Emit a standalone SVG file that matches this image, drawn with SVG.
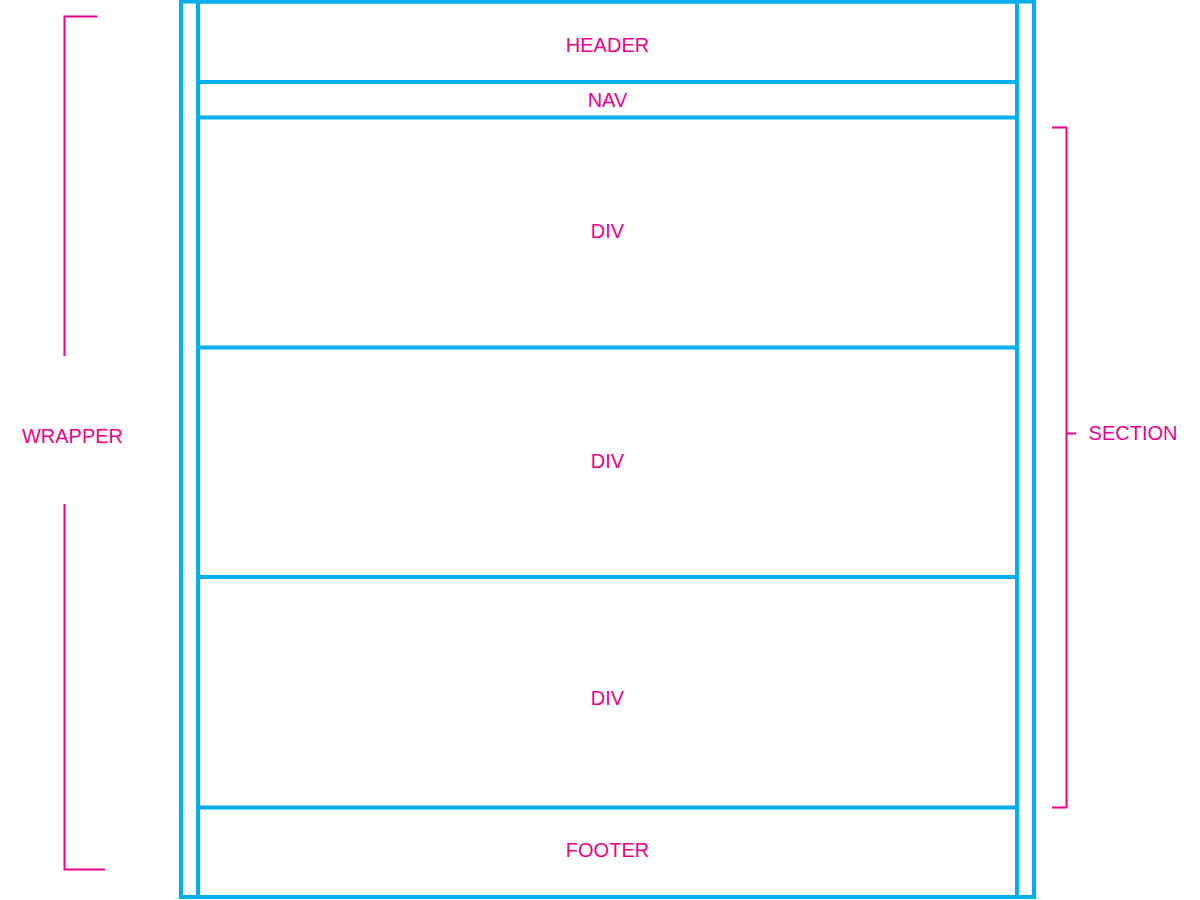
<svg xmlns="http://www.w3.org/2000/svg" width="1200" height="900" viewBox="0 0 1200 900">
<style>
.box{fill:none;stroke:#00AEEF;stroke-width:4}
.sep{stroke:#00AEEF;stroke-width:4;fill:none}
.br{fill:none;stroke:#EC008C;stroke-width:2}
.lbl{font-family:"Liberation Sans",Arial,sans-serif;font-size:20px;fill:#EC008C;text-anchor:middle}
</style>
<rect width="1200" height="900" fill="#ffffff"/>
<g id="wrapper">
<rect class="box" x="181" y="1.5" width="853" height="895.5"/>
</g>
<g id="inner">
<rect class="box" x="198" y="1.5" width="819" height="895.5"/>
</g>
<g id="header">
<text class="lbl" x="607.5" y="52">HEADER</text>
</g>
<g id="nav">
<text class="lbl" x="607.5" y="107">NAV</text>
</g>
<g id="div1">
<text class="lbl" x="607.5" y="238">DIV</text>
</g>
<g id="div2">
<text class="lbl" x="607.5" y="468">DIV</text>
</g>
<g id="div3">
<text class="lbl" x="607.5" y="705">DIV</text>
</g>
<g id="footer">
<text class="lbl" x="607.5" y="857">FOOTER</text>
</g>
<g id="connectors">
<line class="sep" x1="198" y1="82" x2="1017" y2="82"/>
<line class="sep" x1="198" y1="117.5" x2="1017" y2="117.5"/>
<line class="sep" x1="198" y1="347.5" x2="1017" y2="347.5"/>
<line class="sep" x1="198" y1="577" x2="1017" y2="577"/>
<line class="sep" x1="198" y1="807.5" x2="1017" y2="807.5"/>
<polyline class="br" points="97.5,16.5 64.5,16.5 64.5,356"/>
<polyline class="br" points="64.5,504 64.5,869.5 105,869.5"/>
<polyline class="br" points="1052,127.5 1066.5,127.5 1066.5,807.5 1052,807.5"/>
<line class="br" x1="1066.5" y1="433.5" x2="1076" y2="433.5"/>
</g>
<g id="wrapper-label">
<text class="lbl" x="72.5" y="443">WRAPPER</text>
</g>
<g id="section-label">
<text class="lbl" x="1133" y="440">SECTION</text>
</g>
</svg>
